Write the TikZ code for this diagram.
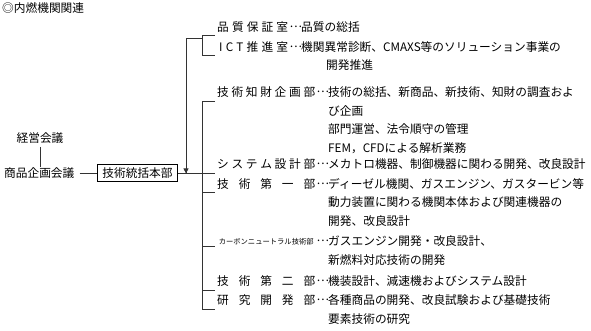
\documentclass[tikz,border=0pt]{standalone}
\usepackage{fontspec}
\setmainfont{Noto Sans CJK JP}
\usetikzlibrary{arrows.meta,positioning,calc}

\newcommand{\desclines}[1]{\vtop{\halign{##\hfil\cr#1\crcr}}}
\newcommand{\kdots}{\llap{\makebox[1em][s]{\raisebox{0.3em}{…}}}}

\begin{document}
\begin{tikzpicture}[
    x=1pt, y=-1pt,
    font=\fontsize{11.7}{18.5}\selectfont,
    line/.style={line width=0.8pt, black!80},
    arrow/.style={line, -{Triangle[length=5pt,width=5pt]}},
    lbl/.style={inner sep=0pt, anchor=base west},
    desc/.style={inner sep=0pt, anchor=base west},
    hq/.style={draw, line width=0.8pt, inner xsep=5pt, inner ysep=3pt}
]
\useasboundingbox (0,0) rectangle (591,330);

\node[lbl] (title) at (2,12.5) {◎内燃機関関連};

\node (keiei) at (40,138) {経営会議};
\node[anchor=west, inner sep=0pt] (shohin) at (4,173) {商品企画会議};
\node[hq] (honbu) at (137.5,173) {技術統括本部};

\draw[line] (keiei.south) -- (keiei.south |- shohin.north);
\draw[line] ([xshift=5pt]shohin.east) -- (honbu.west);

% labels of the sections
\node[lbl] (qa) at (217,31) {\makebox[71pt]{品\hfill 質\hfill 保\hfill 証\hfill 室}};
\node[lbl] (ict) at (217,51) {\makebox[71pt]{\hspace*{2pt}I\hfill C\hfill T\hfill 推\hfill 進\hfill 室}};
\node[lbl] (chizai) at (217,96.5) {\makebox[98pt]{技\hfill 術\hfill 知\hfill 財\hfill 企\hfill 画\hfill 部}};
\node[lbl] (sys) at (217,168.5) {\makebox[98pt]{シ\hfill ス\hfill テ\hfill ム\hfill 設\hfill 計\hfill 部}};
\node[lbl] (gi1) at (217,188) {\makebox[98pt]{技\hfill 術\hfill 第\hfill 一\hfill 部}};
\node[lbl, font=\fontsize{7.3}{9}\selectfont] (cn) at (217,244) {\makebox[98pt]{カーボンニュートラル技術部}};
\node[lbl] (gi2) at (217,285.5) {\makebox[98pt]{技\hfill 術\hfill 第\hfill 二\hfill 部}};
\node[lbl] (rd) at (217,304.5) {\makebox[98pt]{研\hfill 究\hfill 開\hfill 発\hfill 部}};

% descriptions
\node[desc] (qatxt) at (301,31) {\kdots 品質の総括};
\node[desc] (icttxt) at (301,51) {\desclines{\kdots 機関異常診断、CMAXS等のソリューション事業の\cr\hspace*{25pt}開発推進}};
\node[desc] (chizaitxt) at (328,96.5) {\desclines{\kdots 技術の総括、新商品、新技術、知財の調査およ\cr び企画\cr 部門運営、法令順守の管理\cr FEM，CFDによる解析業務}};
\node[desc] (systxt) at (328,168.5) {\kdots メカトロ機器、制御機器に関わる開発、改良設計};
\node[desc] (gi1txt) at (328,188) {\desclines{\kdots ディーゼル機関、ガスエンジン、ガスタービン等\cr 動力装置に関わる機関本体および関連機器の\cr 開発、改良設計}};
\node[desc] (cntxt) at (328,245.5) {\desclines{\kdots ガスエンジン開発・改良設計、\cr 新燃料対応技術の開発}};
\node[desc] (gi2txt) at (328,285.5) {\kdots 機装設計、減速機およびシステム設計};
\node[desc] (rdtxt) at (328,304.5) {\desclines{\kdots 各種商品の開発、改良試験および基礎技術\cr 要素技術の研究}};

% trunk and brackets
\coordinate (bx) at (202,0);
\coordinate (top) at (186,38);
\draw[line] (top |- honbu.east) -- (top) -- (top -| bx);
\draw[arrow] (top) -- ([yshift=-0.4pt]top |- honbu.east);
\draw[line] (honbu.east) -- (honbu.east -| bx);

\draw[line] ([xshift=-2pt,yshift=-4.5pt]qa.base west) -| ([yshift=-4.5pt]bx |- ict.base)
    -- ([xshift=-2pt,yshift=-4.5pt]ict.base west);
\draw[line] ([xshift=-2pt,yshift=-4.5pt]chizai.base west) -| ([yshift=-4.5pt]bx |- rd.base)
    -- ([xshift=-2pt,yshift=-4.5pt]rd.base west);
\foreach \n in {sys,gi1,gi2}
  \draw[line] ([yshift=-4.5pt]bx |- \n.base) -- ([xshift=-2pt,yshift=-4.5pt]\n.base west);
\draw[line] ([yshift=-2.5pt]bx |- cn.base) -- ([xshift=-2pt,yshift=-2.5pt]cn.base west);

\end{tikzpicture}
\end{document}
